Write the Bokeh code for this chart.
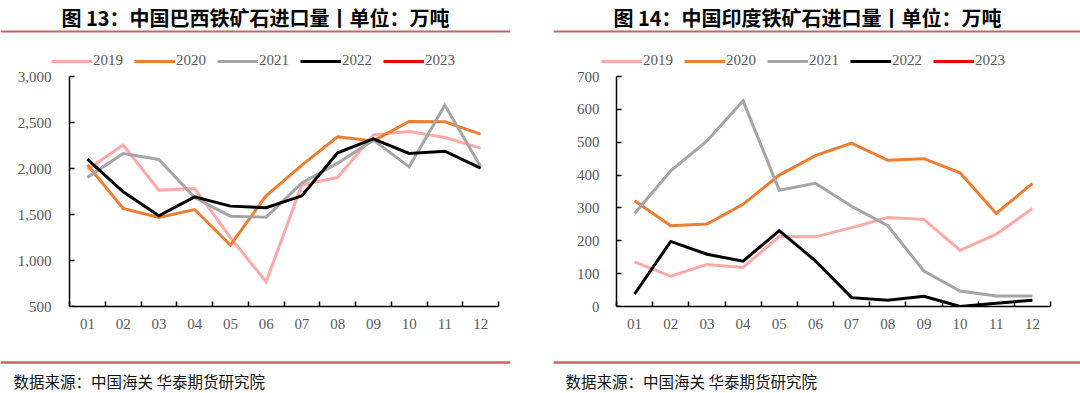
from bokeh.plotting import figure
from bokeh.models import (Range1d, Span, Label, Legend, LegendItem, FixedTicker,
                          NumeralTickFormatter, Spacer, LinearAxis)
from bokeh.layouts import column, row
from bokeh.embed import file_html
from bokeh.resources import INLINE

# ---------------- data ----------------
months = ["01", "02", "03", "04", "05", "06", "07", "08", "09", "10", "11", "12"]
years = ["2019", "2020", "2021", "2022", "2023"]

brazil_2019 = [1990, 2254, 1765, 1783, 1250, 768, 1822, 1902, 2366, 2402, 2337, 2221]
brazil_2020 = [2040, 1565, 1467, 1554, 1167, 1703, 2036, 2344, 2300, 2511, 2507, 2373]
brazil_2021 = [1902, 2163, 2098, 1685, 1482, 1471, 1844, 2058, 2308, 2018, 2688, 2022]
brazil_2022 = [2101, 1746, 1486, 1692, 1591, 1573, 1703, 2170, 2322, 2163, 2188, 2004]
brazil_2023 = []   # no 2023 data shown (legend entry only)

india_2019 = [136, 92, 128, 119, 213, 212, 240, 271, 265, 171, 220, 298]
india_2020 = [322, 246, 251, 311, 400, 459, 497, 445, 450, 407, 283, 375]
india_2021 = [283, 413, 504, 626, 354, 375, 305, 246, 108, 47, 32, 32]
india_2022 = [38, 198, 159, 138, 231, 139, 27, 19, 31, 0, 10, 19]
india_2023 = []    # no 2023 data shown (legend entry only)

brazil_ticks = [500, 1000, 1500, 2000, 2500, 3000]
india_ticks = [0, 100, 200, 300, 400, 500, 600, 700]

title_left = "图 13：中国巴西铁矿石进口量丨单位：万吨"
title_right = "图 14：中国印度铁矿石进口量丨单位：万吨"
source_text = "数据来源：中国海关 华泰期货研究院"

# ---------------- style ----------------
series_colors = ["#FFA8A8", "#ED7D31", "#A5A5A5", "#000000", "#FF0000"]
rule_color = "#C46565"
tick_color = "#595959"
serif = "Liberation Serif"
cjk = "Noto Sans CJK SC"

HEAD_H = 48
FOOT_H = 48
CHART_W = 540
CHART_H = 297
BOTTOM = 39
TOP_PAD = 28
AXIS_H = CHART_H - BOTTOM - TOP_PAD   # pixel height of the value axis


def blank(width, height):
    p = figure(width=width, height=height, x_range=Range1d(0, width),
               y_range=Range1d(0, height), toolbar_location=None,
               output_backend="svg", x_axis_location=None, y_axis_location=None,
               min_border=0)
    p.grid.visible = False
    p.outline_line_color = None
    p.background_fill_color = "white"
    p.border_fill_color = "white"
    return p


def header(width, title, cx):
    p = blank(width, HEAD_H)
    p.add_layout(Label(x=cx, y=HEAD_H - 17, text=title, text_align="center",
                       text_baseline="middle", text_font=cjk,
                       text_font_size="20px", text_font_style="bold",
                       text_color="#000000"))
    p.add_layout(Span(location=HEAD_H - 31, dimension="width", line_color=rule_color,
                      line_width=2))
    return p


def footer(width, tx):
    p = blank(width, FOOT_H)
    p.add_layout(Span(location=FOOT_H - 17, dimension="width", line_color=rule_color,
                      line_width=2.5))
    p.add_layout(Label(x=tx, y=FOOT_H - 35, text=source_text, text_align="left",
                       text_baseline="middle", text_font=cjk,
                       text_font_size="15.5px", text_color="#111111"))
    return p


def chart(series, yticks, fmt, frame_left, axis_px, right, label_gap, legend_x):
    n = len(months)
    xs = list(range(1, n + 1))
    lo, hi = yticks[0], yticks[-1]
    y_end = hi + TOP_PAD * (hi - lo) / AXIS_H
    plot_w = CHART_W - right - axis_px
    x_start = 0.5 - (axis_px - frame_left) * n / plot_w
    p = figure(width=CHART_W, height=CHART_H, x_range=Range1d(x_start, n + 0.5),
               y_range=Range1d(lo, y_end), toolbar_location=None,
               output_backend="svg", min_border_left=frame_left,
               min_border_right=right, min_border_top=0, min_border_bottom=BOTTOM)
    p.grid.visible = False
    p.outline_line_color = None
    p.background_fill_color = "white"
    p.border_fill_color = "white"

    items = []
    for name, vals, col in zip(years, series, series_colors):
        if len(vals):
            r = p.line(x=xs[:len(vals)], y=vals, line_color=col, line_width=3,
                       line_join="miter")
        else:
            r = p.line(x=[xs[0]], y=[float("nan")], line_color=col, line_width=3)
        items.append(LegendItem(label=name, renderers=[r]))

    xa = p.xaxis[0]
    xa.bounds = (0.5, n + 0.5)
    xa.ticker = FixedTicker(ticks=xs, minor_ticks=[i + 0.5 for i in range(n + 1)])
    xa.major_label_overrides = {x: m for x, m in zip(xs, months)}
    xa.major_tick_in = 0
    xa.major_tick_out = 0
    xa.minor_tick_in = 5
    xa.minor_tick_out = 0
    xa.minor_tick_line_color = "black"
    xa.minor_tick_line_width = 1.5
    xa.axis_line_color = "black"
    xa.axis_line_width = 1.5
    xa.major_label_text_font = serif
    xa.major_label_text_font_size = "15px"
    xa.major_label_text_color = tick_color
    xa.major_label_standoff = 12

    # value labels: the frame-edge axis carries only the tick labels
    ya = p.yaxis[0]
    ya.ticker = FixedTicker(ticks=yticks)
    ya.formatter = NumeralTickFormatter(format=fmt)
    ya.axis_line_color = None
    ya.major_tick_line_color = None
    ya.minor_tick_line_color = None
    ya.major_tick_in = 0
    ya.major_tick_out = 0
    ya.minor_tick_in = 0
    ya.minor_tick_out = 0
    ya.major_label_text_font = serif
    ya.major_label_text_font_size = "15px"
    ya.major_label_text_color = tick_color
    ya.major_label_standoff = label_gap

    # axis line and inward ticks at the first category boundary
    yline = LinearAxis(fixed_location=0.5, bounds=(lo, hi),
                       ticker=FixedTicker(ticks=yticks),
                       major_label_overrides={t: "" for t in yticks},
                       major_label_standoff=0, major_tick_in=5, major_tick_out=0,
                       minor_tick_in=0, minor_tick_out=0,
                       major_tick_line_color="black", major_tick_line_width=1.5,
                       axis_line_color="black", axis_line_width=1.5)
    p.add_layout(yline, "left")

    legend = Legend(items=items, orientation="horizontal",
                    location=(legend_x, AXIS_H + 7),
                    label_text_font=serif, label_text_font_size="15px",
                    label_text_color=tick_color, glyph_width=41, glyph_height=16,
                    label_standoff=1, spacing=11, padding=0, margin=0,
                    border_line_color=None, background_fill_alpha=0)
    p.add_layout(legend, "center")
    return p


left_chart = chart([brazil_2019, brazil_2020, brazil_2021, brazil_2022, brazil_2023],
                   brazil_ticks, "0,0", 51, 69, 42, 0, 0)
right_chart = chart([india_2019, india_2020, india_2021, india_2022, india_2023],
                    india_ticks, "0", 60, 76, 30, 1, 1)

layout = column(
    row(header(510, title_left, 255), Spacer(width=43, height=HEAD_H),
        header(527, title_right, 254)),
    row(left_chart, right_chart),
    row(footer(510, 13), Spacer(width=43, height=FOOT_H), footer(527, 12)),
)

open("out.html", "w").write(file_html(layout, INLINE))
